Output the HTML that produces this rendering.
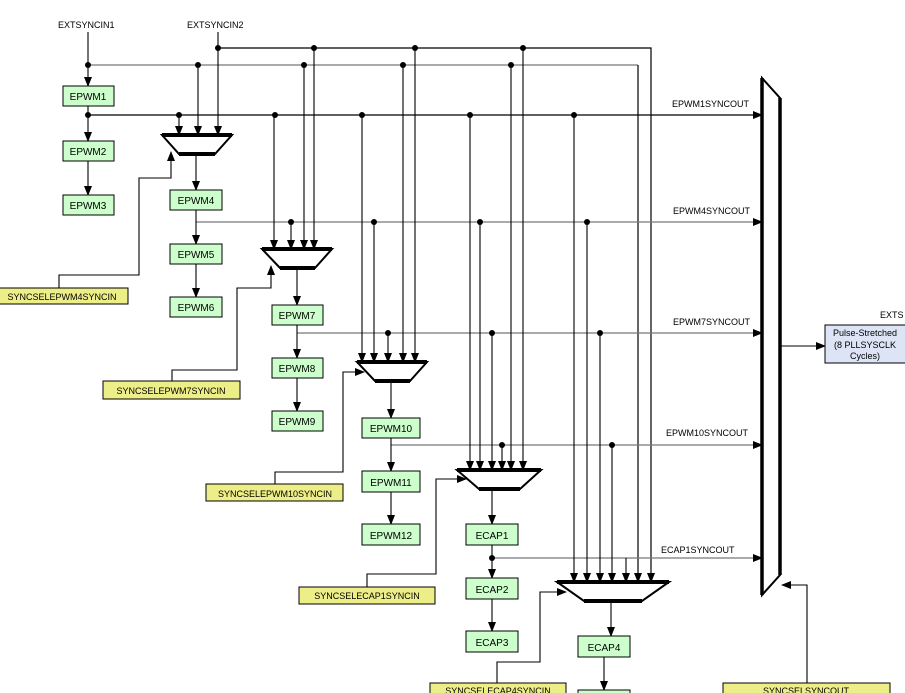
<!DOCTYPE html>
<html><head><meta charset="utf-8"><style>
html,body{margin:0;padding:0;background:#fff;}
svg{display:block;font-family:"Liberation Sans",Arial,sans-serif;}
</style></head><body>
<svg width="905" height="693" viewBox="0 0 905 693" xmlns="http://www.w3.org/2000/svg">
<defs>
<marker id="a" markerWidth="10" markerHeight="8" refX="9" refY="4" orient="auto" markerUnits="userSpaceOnUse"><path d="M0,0 L10,4 L0,8 z" fill="#000"/></marker>
</defs>
<g font-size="9" fill="#000">
<text x="58" y="28">EXTSYNCIN1</text>
<text x="187" y="28">EXTSYNCIN2</text>
<text x="672" y="107">EPWM1SYNCOUT</text>
<text x="673" y="214">EPWM4SYNCOUT</text>
<text x="673" y="325">EPWM7SYNCOUT</text>
<text x="666" y="436">EPWM10SYNCOUT</text>
<text x="661" y="553">ECAP1SYNCOUT</text>
<text x="880" y="318">EXTS</text>
</g>
<g fill="none" stroke-width="1.2">
<polyline points="218,48 651,48 651,582" stroke="#000" marker-end="url(#a)"/>
<line x1="88" y1="65" x2="638" y2="65" stroke="#777"/>
<line x1="638" y1="65" x2="638" y2="582" stroke="#000" marker-end="url(#a)"/>
<line x1="88" y1="115" x2="762" y2="115" stroke="#000" marker-end="url(#a)"/>
<line x1="196" y1="222" x2="762" y2="222" stroke="#777" marker-end="url(#a)"/>
<line x1="297" y1="333" x2="762" y2="333" stroke="#777" marker-end="url(#a)"/>
<line x1="391" y1="445" x2="762" y2="445" stroke="#777" marker-end="url(#a)"/>
<line x1="492" y1="558" x2="762" y2="558" stroke="#777" marker-end="url(#a)"/>
</g>
<g stroke="#000" stroke-width="1.1" fill="none" marker-end="url(#a)">
<line x1="88" y1="32" x2="88" y2="86"/>
<line x1="218" y1="32" x2="218" y2="135"/>
<line x1="179" y1="115" x2="179" y2="135"/>
<line x1="198" y1="65" x2="198" y2="135"/>
<line x1="274" y1="115" x2="274" y2="249"/>
<line x1="291" y1="222" x2="291" y2="249"/>
<line x1="304" y1="65" x2="304" y2="249"/>
<line x1="314" y1="48" x2="314" y2="249"/>
<line x1="362" y1="115" x2="362" y2="362"/>
<line x1="374" y1="222" x2="374" y2="362"/>
<line x1="388" y1="333" x2="388" y2="362"/>
<line x1="403" y1="65" x2="403" y2="362"/>
<line x1="415" y1="48" x2="415" y2="362"/>
<line x1="470" y1="115" x2="470" y2="470"/>
<line x1="480" y1="222" x2="480" y2="470"/>
<line x1="492" y1="333" x2="492" y2="470"/>
<line x1="502" y1="445" x2="502" y2="470"/>
<line x1="511" y1="65" x2="511" y2="470"/>
<line x1="523" y1="48" x2="523" y2="470"/>
<line x1="574" y1="115" x2="574" y2="582"/>
<line x1="587" y1="222" x2="587" y2="582"/>
<line x1="600" y1="333" x2="600" y2="582"/>
<line x1="612" y1="445" x2="612" y2="582"/>
<line x1="626" y1="558" x2="626" y2="582"/>
<line x1="88" y1="106" x2="88" y2="141"/>
<line x1="88" y1="161" x2="88" y2="195"/>
<line x1="196" y1="154" x2="196" y2="190"/>
<line x1="196" y1="210" x2="196" y2="244"/>
<line x1="196" y1="264" x2="196" y2="297"/>
<line x1="297" y1="268" x2="297" y2="305"/>
<line x1="297" y1="325" x2="297" y2="358"/>
<line x1="297" y1="378" x2="297" y2="411"/>
<line x1="391" y1="381" x2="391" y2="418"/>
<line x1="391" y1="438" x2="391" y2="471"/>
<line x1="391" y1="492" x2="391" y2="524"/>
<line x1="492" y1="489" x2="492" y2="524"/>
<line x1="492" y1="545" x2="492" y2="578"/>
<line x1="492" y1="599" x2="492" y2="631"/>
<line x1="611" y1="601" x2="611" y2="636"/>
<line x1="604" y1="657" x2="604" y2="690"/>
<polyline points="59,288 59,275 139,275 139,178 171,178 171,152"/>
<polyline points="172,381 172,370 237,370 237,288 271,288 271,266"/>
<polyline points="275,484 275,472 343,472 343,372 364,372"/>
<polyline points="367,587 367,574 436,574 436,479 466,479"/>
<polyline points="497,683 497,662 540,662 540,592 566,592"/>
<polyline points="807,683 807,585 782,585"/>
<line x1="780" y1="346" x2="825" y2="346"/>
</g>
<g fill="#000">
<circle cx="88" cy="65" r="3"/><circle cx="198" cy="65" r="3"/><circle cx="304" cy="65" r="3"/><circle cx="403" cy="65" r="3"/><circle cx="511" cy="65" r="3"/>
<circle cx="218" cy="48" r="3"/><circle cx="314" cy="48" r="3"/><circle cx="415" cy="48" r="3"/><circle cx="523" cy="48" r="3"/>
<circle cx="88" cy="115" r="3"/><circle cx="179" cy="115" r="3"/><circle cx="275" cy="115" r="3"/><circle cx="362" cy="115" r="3"/><circle cx="470" cy="115" r="3"/><circle cx="574" cy="115" r="3"/>
<circle cx="291" cy="222" r="3"/><circle cx="374" cy="222" r="3"/><circle cx="480" cy="222" r="3"/><circle cx="587" cy="222" r="3"/>
<circle cx="388" cy="333" r="3"/><circle cx="492" cy="333" r="3"/><circle cx="600" cy="333" r="3"/>
<circle cx="502" cy="445" r="3"/><circle cx="612" cy="445" r="3"/>
<circle cx="492" cy="558" r="3"/>
</g>
<g fill="#fff" stroke="#000" stroke-width="2">
<polygon points="162,135 232,135 215,154 179,154"/>
<polygon points="262,249 332,249 315,268 280,268"/>
<polygon points="357,362 427,362 410,381 375,381"/>
<polygon points="457,470 541,470 520,489 479,489"/>
<polygon points="557,582 669,582 642,601 584,601"/>
</g>
<g stroke="#000" stroke-width="4">
<line x1="162" y1="135" x2="232" y2="135"/><line x1="179" y1="154" x2="215" y2="154"/>
<line x1="262" y1="249" x2="332" y2="249"/><line x1="280" y1="268" x2="315" y2="268"/>
<line x1="357" y1="362" x2="427" y2="362"/><line x1="375" y1="381" x2="410" y2="381"/>
<line x1="457" y1="470" x2="541" y2="470"/><line x1="479" y1="489" x2="520" y2="489"/>
<line x1="557" y1="582" x2="669" y2="582"/><line x1="584" y1="601" x2="642" y2="601"/>
</g>
<polygon points="762,78 780,98 780,575 762,595" fill="#fff" stroke="#000" stroke-width="2"/>
<line x1="762" y1="78" x2="762" y2="595" stroke="#000" stroke-width="3.5"/>
<line x1="780" y1="98" x2="780" y2="575" stroke="#000" stroke-width="3.5"/>
<g fill="#ccffcc" stroke="#000" stroke-width="1">
<rect x="63" y="86" width="51" height="20"/><rect x="63" y="141" width="51" height="20"/><rect x="63" y="195" width="51" height="20"/>
<rect x="170" y="190" width="52" height="20"/><rect x="170" y="244" width="52" height="20"/><rect x="170" y="297" width="52" height="20"/>
<rect x="272" y="305" width="51" height="20"/><rect x="272" y="358" width="51" height="20"/><rect x="272" y="411" width="51" height="20"/>
<rect x="362" y="418" width="58" height="20"/><rect x="362" y="471" width="58" height="21"/><rect x="362" y="524" width="58" height="21"/>
<rect x="466" y="524" width="52" height="21"/><rect x="466" y="578" width="52" height="21"/><rect x="466" y="631" width="52" height="21"/>
<rect x="578" y="636" width="52" height="21"/><rect x="578" y="690" width="52" height="10"/>
</g>
<g fill="#eeee88" stroke="#000" stroke-width="1">
<rect x="-2" y="288" width="130" height="16"/>
<rect x="103" y="381" width="137" height="18"/>
<rect x="206" y="484" width="137" height="17"/>
<rect x="299" y="587" width="136" height="17"/>
<rect x="430" y="683" width="136" height="15"/>
<rect x="723" y="683" width="167" height="15"/>
</g>
<rect x="825" y="325" width="85" height="38" fill="#dde4f5" stroke="#000"/>
<g font-size="10" text-anchor="middle" fill="#000">
<text x="88" y="100">EPWM1</text><text x="88" y="155">EPWM2</text><text x="88" y="209">EPWM3</text>
<text x="196" y="204">EPWM4</text><text x="196" y="258">EPWM5</text><text x="196" y="311">EPWM6</text>
<text x="297" y="319">EPWM7</text><text x="297" y="372">EPWM8</text><text x="297" y="425">EPWM9</text>
<text x="391" y="432">EPWM10</text><text x="391" y="486">EPWM11</text><text x="391" y="539">EPWM12</text>
<text x="492" y="539">ECAP1</text><text x="492" y="593">ECAP2</text><text x="492" y="646">ECAP3</text>
<text x="604" y="651">ECAP4</text>
</g>
<g font-size="9" text-anchor="middle" fill="#000">
<text x="62" y="300">SYNCSELEPWM4SYNCIN</text>
<text x="171" y="394">SYNCSELEPWM7SYNCIN</text>
<text x="275" y="497">SYNCSELEPWM10SYNCIN</text>
<text x="367" y="599">SYNCSELECAP1SYNCIN</text>
<text x="498" y="694">SYNCSELECAP4SYNCIN</text>
<text x="806" y="694">SYNCSELSYNCOUT</text>
<text x="865" y="336">Pulse-Stretched</text>
<text x="865" y="348">(8 PLLSYSCLK</text>
<text x="865" y="359">Cycles)</text>
</g>
</svg>
</body></html>
